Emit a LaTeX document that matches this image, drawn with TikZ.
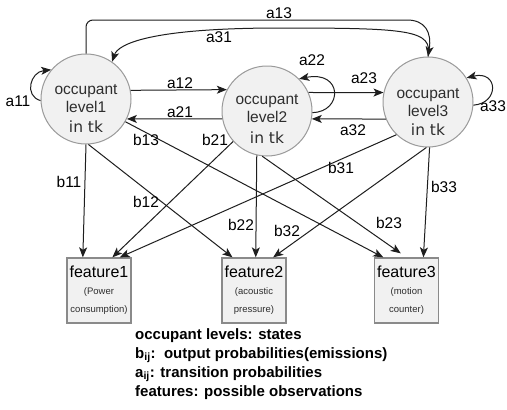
\documentclass[tikz,border=0pt]{standalone}
\usepackage{fontspec}
\setmainfont{Liberation Sans}
\newfontfamily\dejavu{DejaVu Sans}
\usetikzlibrary{arrows.meta}
\definecolor{edgec}{HTML}{1E1E1E}
\definecolor{circfill}{HTML}{F1F1F1}
\definecolor{circdraw}{HTML}{9A9A9A}
\definecolor{boxdraw}{HTML}{8A8A8A}
\definecolor{txtc}{HTML}{2E2E2E}
\begin{document}
\begin{tikzpicture}[x=1pt,y=-1pt,
  state/.style={circle, draw=circdraw, fill=circfill, line width=1pt, minimum size=90pt, inner sep=0pt},
  featbox/.style={rectangle, draw=boxdraw, fill=circfill, line width=1.3pt, minimum width=64pt, minimum height=65pt, inner sep=0pt},
  arr/.style={draw=edgec, line width=1pt, -{Stealth[length=10pt,width=8pt,inset=2.5pt]}},
  lbl/.style={font=\fontsize{15.5}{17}\selectfont, text=black, inner sep=0pt},
  stxt/.style={font=\fontsize{15.5}{18}\selectfont, text=txtc, align=center, inner sep=0pt},
  tktxt/.style={font=\dejavu\fontsize{15.5}{18}\selectfont, text=txtc, inner sep=0pt},
  ftxt/.style={font=\fontsize{16}{18}\selectfont, text=black, inner sep=0pt},
  fsub/.style={font=\fontsize{9.5}{18}\selectfont, text=txtc, align=center, inner sep=0pt},
  legend/.style={font=\bfseries\fontsize{15}{18}\selectfont, text=black, inner sep=0pt, anchor=base west}
]
\useasboundingbox (0,0) rectangle (507,410);
\fill[white] (0,0) rectangle (507,410);

% states
\node[state] (c1) at (86,99) {};
\node[state] (c2) at (267,111) {};
\node[state] (c3) at (428,102) {};
\node[stxt] (c1t) at (86,99) {occupant\\level1};
\node[tktxt] (c1k) at (86,127) {in tk};
\node[stxt] (c2t) at (267,109) {occupant\\level2};
\node[tktxt] (c2k) at (267,138) {in tk};
\node[stxt] (c3t) at (428,102.5) {occupant\\level3};
\node[tktxt] (c3k) at (428,130) {in tk};

% features
\node[featbox] (f1) at (99,290.5) {};
\node[featbox] (f2) at (254,290.5) {};
\node[featbox] (f3) at (406.5,290.5) {};
\node[ftxt] (f1t) at (99,272) {feature1};
\node[ftxt] (f2t) at (254,272) {feature2};
\node[ftxt] (f3t) at (406.5,272) {feature3};
\node[fsub] (f1s) at (99,301) {(Power\\consumption)};
\node[fsub] (f2s) at (254,301) {(acoustic\\pressure)};
\node[fsub] (f3s) at (406.5,301) {(motion\\counter)};

% transitions between states
\draw[arr] (c1.11) -- (c2.152);
\draw[arr] (c2.190) -- (c1.-26);
\draw[arr] (c2.24) -- (c3.168);
\draw[arr] (c3.202) -- (c2.-10);

% self loops
\draw[arr] (c1.182) .. controls (24,96) and (30,72) .. (c1.140);
\draw[arr] (c2.-2) .. controls (343,112) and (343,70) .. (c2.45);
\draw[arr] (c3.-4) .. controls (500,103) and (498,70) .. (c3.32);

% long transitions
\coordinate (a13k) at (400,20);
\draw[arr, rounded corners=7pt] (c1.north) |- (a13k) .. controls (425,20) and (432,32) .. (c3.north);
\coordinate (a31k) at (280,28);
\draw[arr] (c3.north) .. controls (433,30) and (410,28) .. (a31k) .. controls (150,28) and (118,44) .. (c1.55);

% emissions
\draw[arr] (c1.-90) -- (f1.116);
\draw[arr] (c1.-87) -- (f2.123);
\draw[arr] (c1.-30) -- (f3.125);
\draw[arr] (c2.-138) -- (f1.68);
\draw[arr] (c2.-103) -- (f2.87);
\draw[arr, shorten >=7pt] (c2.-96) -- (f3.north);
\draw[arr] (c3.-134) -- (f1.58);
\draw[arr] (c3.-92) -- (f2.60);
\draw[arr] (c3.-88) -- (f3.63);

% labels
\node[lbl] (la11) at (18,101) {a11};
\node[lbl] (la12) at (180,83) {a12};
\node[lbl] (la21) at (180,112) {a21};
\node[lbl] (la22) at (312,60) {a22};
\node[lbl] (la23) at (364,78) {a23};
\node[lbl] (la32) at (353,130) {a32};
\node[lbl] (la33) at (493,106) {a33};
\node[lbl] (la13) at (279,13) {a13};
\node[lbl] (la31) at (219,37) {a31};
\node[lbl] (lb11) at (69,182) {b11};
\node[lbl] (lb12) at (146,202) {b12};
\node[lbl] (lb13) at (146,140) {b13};
\node[lbl] (lb21) at (215,140) {b21};
\node[lbl] (lb22) at (241,225) {b22};
\node[lbl] (lb23) at (389,223) {b23};
\node[lbl] (lb31) at (341,168) {b31};
\node[lbl] (lb32) at (287,231) {b32};
\node[lbl] (lb33) at (444,187) {b33};

% legend
\node[legend] (lg1) at (135,339) {occupant levels: states};
\node[legend] (lg2) at (135,358) {b\textsubscript{ij}:\ \ output probabilities(emissions)};
\node[legend] (lg3) at (135,377) {a\textsubscript{ij}: transition probabilities};
\node[legend] (lg4) at (135,396) {features: possible observations};
\end{tikzpicture}
\end{document}
